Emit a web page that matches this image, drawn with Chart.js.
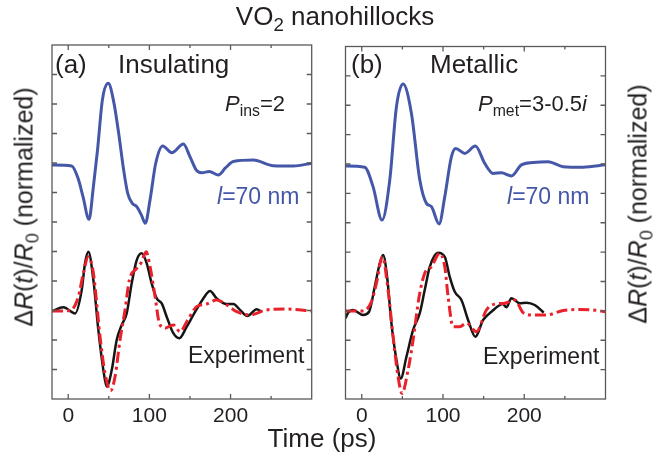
<!DOCTYPE html>
<html>
<head>
<meta charset="utf-8">
<script src="https://cdn.jsdelivr.net/npm/chart.js@4.4.0/dist/chart.umd.min.js"></script>
<style>
  body { margin: 0; background: #fff; font-family: "Liberation Sans", Arial, sans-serif; color: #231f20; }
  #page { position: relative; width: 653px; height: 464px; overflow: hidden; }
  .box { position: absolute; top: 0; height: 464px; }
  .txt { position: absolute; white-space: nowrap; line-height: 1; }
  .txt sub { font-size: 0.72em; vertical-align: baseline; position: relative; top: 0.32em; }
  .blue { color: #4557a8; }
  .ylab { transform: translate(-50%, -50%) rotate(-90deg); font-size: 25px; }
</style>
</head>
<body>
<div id="page">
  <div class="box" style="left:0;width:330px"><canvas id="chartA"></canvas></div>
  <div class="box" style="left:330px;width:300px"><canvas id="chartB"></canvas></div>

  <div class="txt" style="left:335px;top:3px;font-size:26px;transform:translateX(-50%)">VO<sub>2</sub> nanohillocks</div>

  <div class="txt" style="left:55px;top:51px;font-size:26px">(a)</div>
  <div class="txt" style="left:118px;top:51px;font-size:26px">Insulating</div>
  <div class="txt" style="left:225px;top:93px;font-size:22px"><i>P</i><sub>ins</sub>=2</div>
  <div class="txt blue" style="left:217px;top:185px;font-size:23px"><i>l</i>=70 nm</div>
  <div class="txt" style="left:188px;top:344px;font-size:23px">Experiment</div>

  <div class="txt" style="left:351px;top:51px;font-size:26px">(b)</div>
  <div class="txt" style="left:430px;top:51px;font-size:26px">Metallic</div>
  <div class="txt" style="left:478px;top:93px;font-size:22px"><i>P</i><sub>met</sub>=3-0.5<i>i</i></div>
  <div class="txt blue" style="left:507px;top:185px;font-size:23px"><i>l</i>=70 nm</div>
  <div class="txt" style="left:483px;top:345px;font-size:23px">Experiment</div>

  <div class="txt" style="left:322px;top:425px;font-size:26px;transform:translateX(-50%)">Time (ps)</div>
  <div class="txt ylab" style="left:24px;top:207px">&Delta;<i>R</i>(<i>t</i>)/<i>R</i><sub>0</sub> (normalized)</div>
  <div class="txt ylab" style="left:638px;top:204px">&Delta;<i>R</i>(<i>t</i>)/<i>R</i><sub>0</sub> (normalized)</div>
</div>

<script>
// axis ticks (no y labels, just marks)
const xLabelTicks = [0, 100, 200];
const xMinorTicks = [50, 150, 250];
const yTickMarks = [1, 2, 3, 4, 5, 6, 7, 8, 9, 10, 11];

// (a) insulating - simulated trace, offset up
const tBlueA = [-20, 4.3, 12.1, 18.2, 25.6, 31, 36.1, 42.1, 49.4, 56, 62.2, 68.3, 73.3, 79, 84.4, 90.1, 95, 100.8, 107.8, 116.4, 127.5, 141.9, 150.1, 157.9, 164.5, 173.9, 185, 194, 203.5, 228.1, 252.7, 277.4, 300];
const blueA = [7.93, 7.9, 7.48, 6.86, 6.09, 7.2, 8.44, 10.14, 10.7, 10.08, 9.0, 7.76, 6.97, 6.63, 6.52, 6.24, 5.96, 6.75, 7.99, 8.58, 8.35, 8.64, 8.21, 7.76, 7.67, 7.71, 7.59, 7.84, 8.05, 8.1, 7.91, 7.9, 7.99];

// (a) experiment
const tExpA = [-20, -6, 8.4, 16.6, 20.7, 24.8, 31, 37.1, 43.3, 47.4, 53.6, 59.7, 65.9, 72, 78.2, 84.4, 90.5, 96.7, 102.8, 109, 115.2, 121.3, 129.5, 136.9, 146, 154.2, 166.5, 174.7, 182.9, 195.3, 203.5, 211.7, 220.7, 232.2, 238.4];
const expA = [2.98, 3.11, 2.9, 3.69, 4.6, 4.99, 4.03, 2.34, 0.98, 0.42, 0.98, 2.0, 2.51, 2.9, 3.92, 4.71, 4.94, 4.6, 3.92, 3.41, 3.24, 2.79, 2.23, 2.06, 2.45, 2.85, 3.41, 3.66, 3.41, 3.22, 3.22, 3.02, 2.81, 3.04, 2.96];

// (a) simulation overlaid on experiment
const tRedA = [-20, 2.2, 12.5, 18.6, 24.8, 31, 39.2, 45.3, 52.3, 57.7, 63.8, 70, 75.3, 84.4, 90.5, 95.9, 100.8, 107, 112.3, 119.3, 129.5, 137.8, 146, 158.3, 170.6, 182.9, 195.3, 207.6, 224, 244.5, 269.2, 300];
const redA = [2.98, 3.0, 3.47, 4.26, 4.82, 4.26, 2.11, 0.87, 0.28, 0.76, 2.0, 3.02, 4.03, 4.43, 4.65, 4.99, 4.49, 3.47, 2.57, 2.4, 2.51, 2.28, 2.62, 3.13, 3.22, 3.36, 3.19, 2.96, 2.85, 3.02, 3.05, 2.98];

// (b) metallic - simulated trace, offset up
const tBlueB = [-20, 3.7, 13.9, 25, 34.5, 42.7, 50.9, 61.1, 71.4, 79.6, 85.7, 95.2, 102.2, 110.4, 115.7, 126.8, 139.9, 151.4, 161.6, 171.9, 184.2, 196.5, 210.9, 229.3, 247.8, 272.4, 300];
const blueB = [7.93, 7.89, 7.23, 6.09, 7.46, 9.95, 10.72, 9.73, 7.46, 6.66, 6.55, 5.96, 6.89, 8.25, 8.53, 8.36, 8.61, 8.02, 7.68, 7.7, 7.59, 7.97, 8.05, 8.08, 7.91, 7.89, 7.97];

// (b) experiment
const tExpB = [-20, -16.8, -10.7, 1.6, 9, 16, 22.2, 26.3, 31.2, 36.5, 42.7, 48, 55, 63.2, 71.4, 77.5, 83.7, 93.9, 102.2, 108.3, 114.5, 122.7, 130.9, 139.9, 149.3, 159.6, 173.9, 178, 184.2, 194.5, 202.7, 212.9, 224];
const expB = [2.75, 2.94, 3.03, 2.86, 2.97, 3.82, 4.62, 4.9, 4.16, 2.58, 1.33, 0.7, 1.44, 2.35, 2.92, 3.71, 4.5, 4.98, 4.84, 4.16, 3.65, 3.37, 2.69, 2.12, 2.69, 2.97, 3.23, 3.12, 3.43, 3.26, 3.28, 3.2, 2.94];

// (b) simulation overlaid on experiment
const tRedB = [-20, 1.6, 11.9, 18.1, 25.4, 32.4, 38.6, 44.7, 49.6, 57, 63.2, 70.6, 77.5, 85.7, 96, 102.2, 106.3, 112.4, 120.6, 128.8, 141.1, 153.4, 163.7, 176, 188.3, 198.6, 210.9, 227.3, 247.8, 268.3, 284.7, 300];
const redB = [3.0, 3.0, 3.31, 3.94, 4.84, 3.71, 2.12, 0.76, 0.19, 0.99, 2.01, 3.48, 4.28, 4.5, 4.96, 4.5, 3.48, 2.46, 2.46, 2.58, 2.29, 3.03, 3.23, 3.26, 3.37, 2.94, 2.86, 2.86, 3.01, 3.05, 3.03, 2.97];

const BLUE = '#4557a8';
const RED = '#e8212b';
const BLACK = '#151515';

function pts(ts, vs) {
    return ts.map((t, i) => ({ x: t, y: vs[i] }));
}

const framePlugin = {
    id: 'frame',
    afterDraw(chart) {
        const ctx = chart.ctx;
        const a = chart.chartArea;
        const x = chart.scales.x;
        const y = chart.scales.y;
        ctx.save();
        ctx.strokeStyle = '#5a5a5a';
        ctx.lineWidth = 1.3;
        ctx.strokeRect(a.left, a.top, a.right - a.left, a.bottom - a.top);
        ctx.beginPath();
        xLabelTicks.forEach(v => {
            const p = x.getPixelForValue(v);
            ctx.moveTo(p, a.bottom); ctx.lineTo(p, a.bottom - 5);
            ctx.moveTo(p, a.top); ctx.lineTo(p, a.top + 5);
        });
        xMinorTicks.forEach(v => {
            const p = x.getPixelForValue(v);
            ctx.moveTo(p, a.bottom); ctx.lineTo(p, a.bottom - 3);
            ctx.moveTo(p, a.top); ctx.lineTo(p, a.top + 3);
        });
        yTickMarks.forEach(v => {
            const p = y.getPixelForValue(v);
            ctx.moveTo(a.left, p); ctx.lineTo(a.left + 5, p);
            ctx.moveTo(a.right, p); ctx.lineTo(a.right - 5, p);
        });
        ctx.stroke();
        ctx.restore();
    }
};

function makeChart(id, pad, tBlue, blue, tExp, exp, tRed, red) {
    return new Chart(document.getElementById(id), {
        type: 'line',
        data: {
            datasets: [
                { data: pts(tRed, red), borderColor: RED, borderWidth: 3, borderDash: [11, 4, 3, 4], order: 0 },
                { data: pts(tExp, exp), borderColor: BLACK, borderWidth: 2.5, order: 1 },
                { data: pts(tBlue, blue), borderColor: BLUE, borderWidth: 3, order: 2 }
            ]
        },
        options: {
            responsive: false,
            animation: false,
            devicePixelRatio: 1,
            layout: { padding: pad },
            elements: {
                point: { radius: 0 },
                line: { cubicInterpolationMode: 'monotone', fill: false, borderCapStyle: 'butt' }
            },
            plugins: { legend: { display: false }, tooltip: { enabled: false } },
            scales: {
                x: {
                    type: 'linear',
                    min: -20,
                    max: 300,
                    grid: { display: false, drawTicks: false },
                    border: { display: false },
                    afterBuildTicks: s => { s.ticks = xLabelTicks.map(v => ({ value: v })); },
                    afterFit: s => { s.height = 30; },
                    ticks: {
                        padding: 5,
                        color: '#231f20',
                        font: { family: '"Liberation Sans", Arial, sans-serif', size: 21 }
                    }
                },
                y: {
                    display: false,
                    min: 0,
                    max: 12
                }
            }
        },
        plugins: [framePlugin]
    });
}

const canvasA = document.getElementById('chartA');
canvasA.width = 330; canvasA.height = 464;
const canvasB = document.getElementById('chartB');
canvasB.width = 300; canvasB.height = 464;

makeChart('chartA', { left: 52, right: 18.3, top: 45, bottom: 35 }, tBlueA, blueA, tExpA, expA, tRedA, redA);
makeChart('chartB', { left: 15.5, right: 24.5, top: 46.5, bottom: 35 }, tBlueB, blueB, tExpB, expB, tRedB, redB);
</script>
</body>
</html>
